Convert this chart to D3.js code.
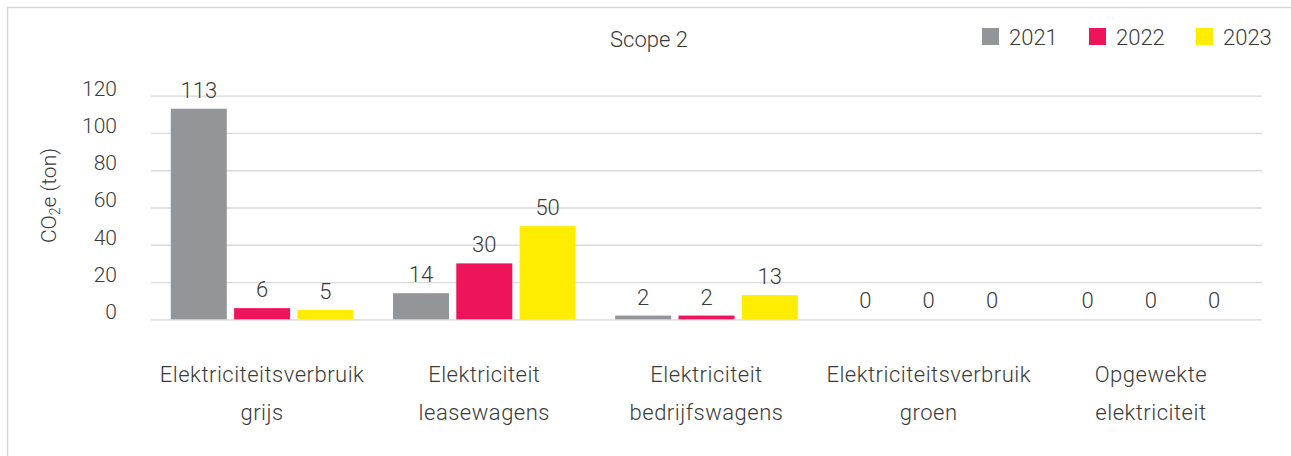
<!DOCTYPE html>
<html>
<head>
<meta charset="utf-8">
<script src="https://cdn.jsdelivr.net/npm/d3@7"></script>
<style>
  body { margin: 0; background: #fff; }
  svg text { font-family: Roboto, "Noto Sans", sans-serif; font-weight: 300; fill: #3a3a3a; }
  .grid line { stroke: #d9d9d9; stroke-width: 1.3; }
  .grid .domain { display: none; }
</style>
</head>
<body>
<svg id="chart"></svg>
<script>
// Chart data
const categories = [
  'Elektriciteitsverbruik grijs',
  'Elektriciteit leasewagens',
  'Elektriciteit bedrijfswagens',
  'Elektriciteitsverbruik groen',
  'Opgewekte elektriciteit'
];
const years = ['2021', '2022', '2023'];
const values2021 = [113, 14, 2, 0, 0];
const values2022 = [6, 30, 2, 0, 0];
const values2023 = [5, 50, 13, 0, 0];
const yTicks = [0, 20, 40, 60, 80, 100, 120];
const colors = ['#939598', '#ed145b', '#ffed00'];

class GroupedBarChart {

  constructor(_config) {
    this.config = {
      parentElement: _config.parentElement,
      containerWidth: _config.containerWidth || 1291,
      containerHeight: _config.containerHeight || 456,
      margin: _config.margin || {top: 95.7, right: 29, bottom: 136.7, left: 151}
    };
    this.initVis();
  }

  initVis() {
    let vis = this;

    vis.width = vis.config.containerWidth - vis.config.margin.left - vis.config.margin.right;
    vis.height = vis.config.containerHeight - vis.config.margin.top - vis.config.margin.bottom;

    vis.svg = d3.select(vis.config.parentElement)
        .attr('width', vis.config.containerWidth)
        .attr('height', vis.config.containerHeight);

    // light frame round the chart (only top and left edges are visible)
    vis.svg.append('rect')
        .attr('x', 7.5).attr('y', 7.5)
        .attr('width', 1400).attr('height', 600)
        .attr('fill', 'none')
        .attr('stroke', '#d6d6d6')
        .attr('stroke-width', 1.5);

    vis.chart = vis.svg.append('g')
        .attr('transform', `translate(${vis.config.margin.left},${vis.config.margin.top})`);

    vis.xScale = d3.scaleBand()
        .domain(categories)
        .range([0, vis.width]);

    vis.xSub = d3.scaleBand()
        .domain(years)
        .range([0, vis.xScale.bandwidth()])
        .paddingInner(0.115)
        .paddingOuter(0.3125);

    vis.yScale = d3.scaleLinear()
        .domain([0, 120])
        .range([vis.height, 0]);

    vis.colorScale = d3.scaleOrdinal()
        .domain(years)
        .range(colors);

    // gridlines
    vis.chart.append('g')
        .attr('class', 'grid')
        .call(d3.axisLeft(vis.yScale).tickValues(yTicks).tickSize(-vis.width).tickFormat(''));

    // y tick labels sit on top of their gridline
    vis.chart.selectAll('.y-label')
        .data(yTicks)
      .join('text')
        .attr('class', 'y-label')
        .attr('x', -34)
        .attr('y', d => vis.yScale(d))
        .attr('text-anchor', 'end')
        .style('font-size', '21px')
        .text(d => d);

    // y axis title
    let yTitle = vis.svg.append('text')
        .attr('transform', 'translate(56,195.5) rotate(-90)')
        .attr('text-anchor', 'middle')
        .style('font-size', '21px');
    yTitle.append('tspan').text('CO');
    yTitle.append('tspan').text('2').style('font-size', '14px').attr('dy', 4);
    yTitle.append('tspan').text('e (ton)').attr('dy', -4);

    // chart title
    vis.svg.append('text')
        .attr('x', 649)
        .attr('y', 46.7)
        .attr('text-anchor', 'middle')
        .style('font-size', '22px')
        .text('Scope 2');

    // legend
    let legendX = d3.scalePoint().domain(years).range([982, 1196]);
    let legend = vis.svg.selectAll('.legend')
        .data(years)
      .join('g')
        .attr('class', 'legend')
        .attr('transform', d => `translate(${legendX(d)},28)`);
    legend.append('rect')
        .attr('width', 17).attr('height', 17)
        .attr('fill', d => vis.colorScale(d));
    legend.append('text')
        .attr('x', 27).attr('y', 17)
        .style('font-size', '22px')
        .text(d => d);
  }

  updateVis() {
    let vis = this;
    const series = [values2021, values2022, values2023];
    vis.data = [];
    categories.forEach((c, i) => {
      years.forEach((y, j) => {
        vis.data.push({category: c, year: y, value: series[j][i]});
      });
    });
    vis.renderVis();
  }

  renderVis() {
    let vis = this;

    let groups = vis.chart.selectAll('.group')
        .data(categories)
      .join('g')
        .attr('class', 'group')
        .attr('transform', d => `translate(${vis.xScale(d)},0)`);

    groups.selectAll('.bar')
        .data(c => vis.data.filter(d => d.category === c))
      .join('rect')
        .attr('class', 'bar')
        .attr('x', d => vis.xSub(d.year))
        .attr('y', d => vis.yScale(d.value))
        .attr('width', vis.xSub.bandwidth())
        .attr('height', d => vis.height - vis.yScale(d.value))
        .attr('fill', d => vis.colorScale(d.year));

    groups.selectAll('.bar-label')
        .data(c => vis.data.filter(d => d.category === c))
      .join('text')
        .attr('class', 'bar-label')
        .attr('x', d => vis.xSub(d.year) + vis.xSub.bandwidth() / 2)
        .attr('y', d => vis.yScale(d.value) - 11)
        .attr('text-anchor', 'middle')
        .style('font-size', '22px')
        .text(d => d.value);

    // category labels, wrapped on two lines
    vis.chart.selectAll('.x-label')
        .data(categories)
      .join('text')
        .attr('class', 'x-label')
        .attr('text-anchor', 'middle')
        .style('font-size', '22px')
        .style('letter-spacing', '0.5px')
        .each(function(d) {
          let lines = d.split(' ');
          let cx = vis.xScale(d) + vis.xScale.bandwidth() / 2;
          d3.select(this).selectAll('tspan')
              .data(lines)
            .join('tspan')
              .attr('x', cx)
              .attr('y', (l, i) => vis.height + 63 + i * 38)
              .text(l => l);
        });
  }
}

const chart = new GroupedBarChart({parentElement: '#chart'});
chart.updateVis();
</script>
</body>
</html>
